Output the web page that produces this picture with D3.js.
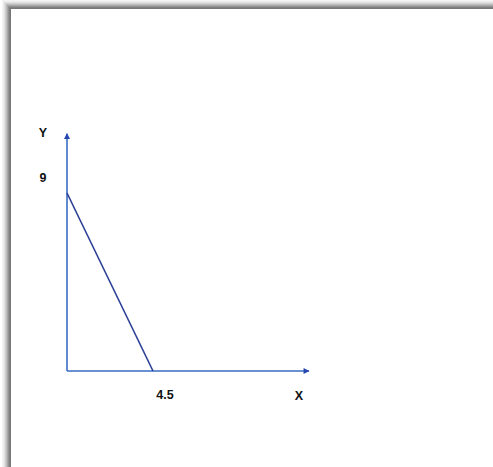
<!DOCTYPE html>
<html>
<head>
<meta charset="utf-8">
<script src="https://cdn.jsdelivr.net/npm/d3@7"></script>
<style>
html,body{margin:0;padding:0;background:#fff;}
svg{display:block;}
</style>
</head>
<body>
<svg id="chart" width="493" height="467"></svg>
<script>
// Data
const intercepts = [{x: 0, y: 9}, {x: 4.5, y: 0}];
const axisExtent = {x: 12.66, y: 12};
const tickLabels = [{axis: "y", value: 9, text: "9"}, {axis: "x", value: 4.5, text: "4.5"}];
const axisNames = ["X", "Y"];

const svg = d3.select("#chart");
const W = 493, H = 467;

// Frame shadow (top and left)
const shades = ["#f4f4f4","#ececec","#e0e0e0","#d0d0d0","#bdbdbd","#a8a8a8","#939393","#808080","#777777"];
shades.forEach((c, i) => {
  svg.append("rect").attr("x", i + 2).attr("y", i).attr("width", W).attr("height", 1).attr("fill", c);
  svg.append("rect").attr("x", i + 2).attr("y", i).attr("width", 1).attr("height", H).attr("fill", c);
});
svg.append("rect").attr("x", 11).attr("y", 9).attr("width", W).attr("height", H).attr("fill", "#fff");

const x0 = 67, y0 = 371;
const x = d3.scaleLinear().domain([0, 4.5]).range([x0, 153]);
const y = d3.scaleLinear().domain([0, 9]).range([y0, 193]);

const defs = svg.append("defs");
defs.append("marker")
  .attr("id", "arrow")
  .attr("viewBox", "0 0 10 10")
  .attr("refX", 9).attr("refY", 5)
  .attr("markerWidth", 7).attr("markerHeight", 6)
  .attr("markerUnits", "userSpaceOnUse")
  .attr("orient", "auto")
  .append("path").attr("d", "M0,0 L10,5 L0,10 Z").attr("fill", "#2748b0");

const axisColor = "#3a6cc4";
// x axis
svg.append("line")
  .attr("x1", x(0)).attr("y1", y(0))
  .attr("x2", x(axisExtent.x)).attr("y2", y(0))
  .attr("stroke", axisColor).attr("stroke-width", 1.6)
  .attr("marker-end", "url(#arrow)");
// y axis
svg.append("line")
  .attr("x1", x(0)).attr("y1", y(0))
  .attr("x2", x(0)).attr("y2", y(axisExtent.y))
  .attr("stroke", axisColor).attr("stroke-width", 1.6)
  .attr("marker-end", "url(#arrow)");

// the line
svg.append("path")
  .datum(intercepts)
  .attr("d", d3.line().x(d => x(d.x)).y(d => y(d.y)))
  .attr("fill", "none")
  .attr("stroke", "#2b3f96")
  .attr("stroke-width", 1.6);

const font = "'Liberation Sans', Arial, sans-serif";
const fs = 12.5;
// tick labels
tickLabels.forEach(t => {
  const tx = t.axis === "x" ? x(t.value) + 12 : 43;
  const ty = t.axis === "x" ? 395 : y(t.value) - 15;
  svg.append("text")
    .attr("x", tx).attr("y", ty)
    .attr("text-anchor", "middle").attr("dominant-baseline", "central")
    .attr("font-family", font).attr("font-weight", "bold").attr("font-size", fs)
    .attr("fill", "#111").text(t.text);
});
// axis names
svg.append("text")
  .attr("x", 299).attr("y", 396)
  .attr("text-anchor", "middle").attr("dominant-baseline", "central")
  .attr("font-family", font).attr("font-weight", "bold").attr("font-size", fs)
  .attr("fill", "#111").text(axisNames[0]);
svg.append("text")
  .attr("x", 43).attr("y", 133)
  .attr("text-anchor", "middle").attr("dominant-baseline", "central")
  .attr("font-family", font).attr("font-weight", "bold").attr("font-size", fs)
  .attr("fill", "#111").text(axisNames[1]);
</script>
</body>
</html>
